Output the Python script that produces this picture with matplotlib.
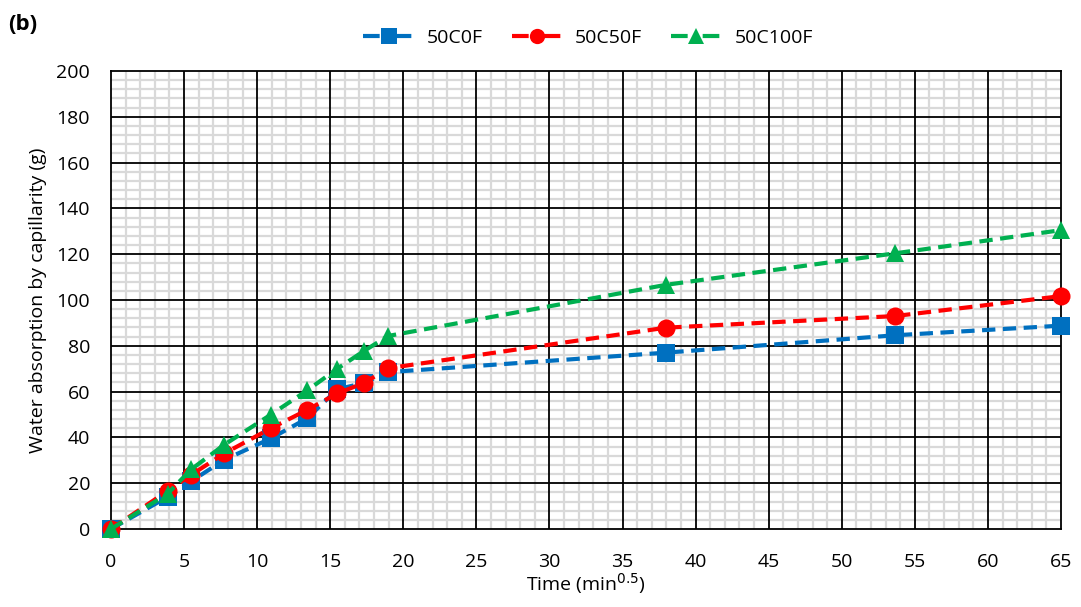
import matplotlib.pyplot as plt
from matplotlib.lines import Line2D
from matplotlib.ticker import MultipleLocator

plt.rcParams['font.family'] = ['Open Sans', 'DejaVu Sans']

# time in min^0.5
time = [0, 3.87, 5.48, 7.75, 10.95, 13.42, 15.49, 17.32, 18.97, 37.95, 53.67, 65.0]

c0f = [0, 14.0, 20.8, 30.2, 39.6, 48.3, 61.0, 63.8, 68.5, 77.0, 84.6, 88.8]
c50f = [0, 16.6, 23.6, 33.0, 44.0, 52.0, 59.2, 63.8, 70.2, 87.9, 93.0, 101.7]
c100f = [0, 15.4, 26.0, 36.8, 50.0, 60.5, 70.0, 77.8, 84.3, 106.6, 120.4, 130.5]

labels = ['50C0F', '50C50F', '50C100F']
colors = ['#0070C0', '#FF0000', '#00B050']
markers = ['s', 'o', '^']

fig = plt.figure(figsize=(10.81, 6.07), dpi=100)
ax = fig.add_axes([111/1081, 1 - 529/607, 950/1081, 458/607])

for ys, lab, col, mk in zip([c0f, c50f, c100f], labels, colors, markers):
    ax.plot(time, ys, linestyle=(0, (3.2, 1.8)), color=col, lw=3, marker=mk,
            markersize=13, markeredgewidth=0,
            label=lab, clip_on=False, zorder=5)

ax.set_xlim(0, 65)
ax.set_ylim(0, 200)
ax.xaxis.set_major_locator(MultipleLocator(5))
ax.xaxis.set_minor_locator(MultipleLocator(1))
ax.yaxis.set_major_locator(MultipleLocator(20))
ax.yaxis.set_minor_locator(MultipleLocator(4))
ax.grid(which='minor', color='#D9D9D9', lw=1.6, zorder=0)
ax.set_axisbelow(True)

# major grid drawn on top of the minor grid
for xv in ax.get_xticks():
    if 0 < xv < 65:
        ax.axvline(xv, color='black', lw=1.3, zorder=1)
for yv in ax.get_yticks():
    if 0 < yv < 200:
        ax.axhline(yv, color='black', lw=1.3, zorder=1)

ax.tick_params(which='both', length=0, labelsize=14)
ax.tick_params(axis='x', pad=17)
ax.tick_params(axis='y', pad=15)
for sp in ax.spines.values():
    sp.set_color('black')
    sp.set_linewidth(1.3)
    sp.set_zorder(2)

ax.set_xlabel('Time (min$^{0.5}$)', fontsize=14, labelpad=0)
ax.set_ylabel('Water absorption by capillarity (g)', fontsize=14, labelpad=7)

# legend keys: one dash on each side of the marker
handles = [Line2D([], [], color=col, lw=3, linestyle=(0, (4, 3.6)), marker=mk,
                  markersize=11, markeredgewidth=0)
           for col, mk in zip(colors, markers)]
fig.legend(handles, labels, loc='center', bbox_to_anchor=(588/1081, 1 - 38/607),
           ncol=3, frameon=False, fontsize=14, handlelength=2.6,
           columnspacing=1.5, handletextpad=0.65)

fig.text(8/1081, 1 - 24/607, '(b)', fontsize=16, fontweight='bold', va='center', ha='left')

fig.savefig('out.png', dpi=100, facecolor='white')
